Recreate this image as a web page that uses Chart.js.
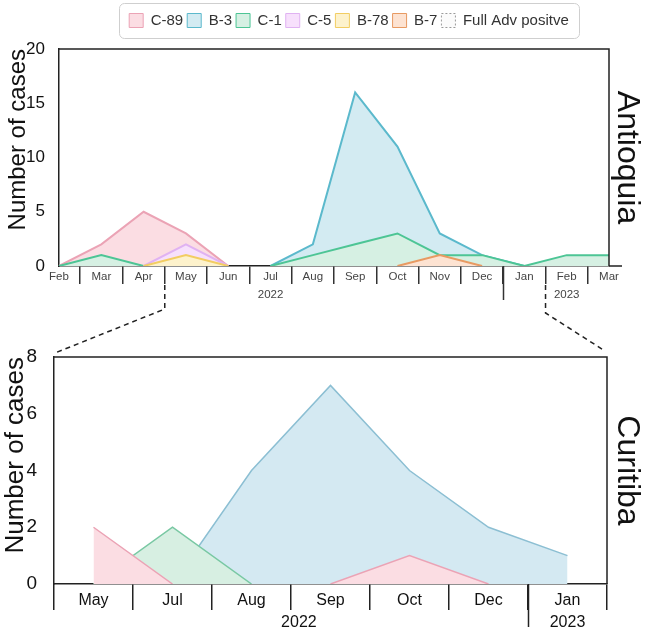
<!DOCTYPE html>
<html><head><meta charset="utf-8">
<script src="https://cdn.jsdelivr.net/npm/chart.js@4"></script>
<style>
html,body{margin:0;padding:0;background:#fff;}
#wrap{position:relative;width:650px;height:634px;overflow:hidden;}
canvas{position:absolute;left:0;}
#topc{top:0;}
#botc{top:280px;}
</style></head><body>
<div id="wrap"><canvas id="topc" width="650" height="320"></canvas><canvas id="botc" width="650" height="354"></canvas></div>
<script>
// ---------- DATA ----------
const topMonths = ['Feb','Mar','Apr','May','Jun','Jul','Aug','Sep','Oct','Nov','Dec','Jan','Feb','Mar'];
const topC89 = [0,2,5,3,0,null,null,null,null,null,null,null,null,null];
const topB3  = [null,null,null,null,null,0,2,16,11,3,1,0,null,null];
const topC1  = [0,1,0,null,null,0,1,2,3,1,1,0,1,1];
const topC5  = [null,null,0,2,0,null,null,null,null,null,null,null,null,null];
const topB78 = [null,null,0,1,0,null,null,null,null,null,null,null,null,null];
const topB7  = [null,null,null,null,null,null,null,null,0,1,0,null,null,null];
const topYTicks = [0,5,10,15,20];
const topYears = ['2022','2023'];
const topYearAt = [5,12];
const topYearBreak = 10.5;
const zoomFrom = 2.5, zoomTo = 11.5;

const botMonths = ['May','Jul','Aug','Sep','Oct','Dec','Jan'];
const botC89 = [2,0,null,0,1,0,null];
const botB3  = [null,0,4,7,4,2,1];
const botC1  = [0,2,0,null,null,null,null];
const botYTicks = [0,2,4,6,8];
const botYears = ['2022','2023'];
const botYearAt = [2.6,6];
const botYearBreak = 5.5;

const seriesNames = ['C-89','B-3','C-1','C-5','B-78','B-7','Full Adv positve'];

// ---------- STYLE ----------
const FONT = '"Liberation Sans", Arial, Helvetica, sans-serif';
Chart.defaults.font.family = FONT;
Chart.defaults.color = '#111';

const col = {
  c89:{line:'#eba3b5', fill:'#fbdde3'},
  b3:{line:'#5bb9cc', fill:'#d3ebf2'},
  b3b:{line:'#8cbfd3', fill:'#d4e9f2'},
  c1:{line:'#4dc595', fill:'#d6f0e3'},
  c1b:{line:'#79c8a3', fill:'#d7efe2'},
  c5:{line:'#e0b2f2', fill:'#f7e0fc'},
  b78:{line:'#f2cd62', fill:'#fdf2cc'},
  b7:{line:'#e89a62', fill:'#fde3d2'}
};

function ds(label, data, c, order, bw){
  return {label, data, borderColor:c.line, backgroundColor:c.fill, fill:'origin',
    borderWidth:bw, pointRadius:0, tension:0, spanGaps:false, order};
}

// ---------- PLUGINS ----------
const boxPlugin = {
  id:'plotBox',
  afterDatasetsDraw(chart, args, opts){
    const {ctx, chartArea:a} = chart;
    ctx.save();
    ctx.strokeStyle = opts.color || '#222';
    ctx.lineWidth = opts.width || 1.5;
    ctx.beginPath();
    ctx.moveTo(a.left, a.top); ctx.lineTo(a.right, a.top); ctx.lineTo(a.right, a.bottom);
    if (opts.extend) { ctx.moveTo(a.right, a.bottom); ctx.lineTo(a.right + opts.extend, a.bottom); }
    ctx.stroke();
    ctx.restore();
  }
};

const yearPlugin = {
  id:'yearGroups',
  afterDraw(chart, args, opts){
    if (!opts.labels) return;
    const {ctx, chartArea:a} = chart;
    const x = chart.scales.x;
    ctx.save();
    const bx = Math.round(x.getPixelForValue(opts.breakAt)) + 0.5;
    ctx.strokeStyle = opts.lineColor; ctx.lineWidth = opts.lineWidth;
    ctx.beginPath(); ctx.moveTo(bx, a.bottom); ctx.lineTo(bx, a.bottom + opts.breakLen); ctx.stroke();
    ctx.fillStyle = opts.color;
    ctx.font = opts.fontSize + 'px ' + FONT;
    ctx.textAlign = 'center'; ctx.textBaseline = 'middle';
    opts.labels.forEach((t,i)=>{
      ctx.fillText(t, x.getPixelForValue(opts.at[i]), a.bottom + opts.dy);
    });
    ctx.restore();
  }
};

const legendFrame = {
  id:'legendFrame',
  afterLayout(chart, args, opts){
    const lg = chart.legend;
    if (lg && opts.shift) { lg.left += opts.shift; lg.right += opts.shift; }
  },
  afterDraw(chart){
    const lg = chart.legend;
    if (!lg || !lg.legendHitBoxes || !lg.legendHitBoxes.length) return;
    const hb = lg.legendHitBoxes;
    let l = Infinity, r = -Infinity, t = Infinity, b = -Infinity;
    hb.forEach(h=>{ l=Math.min(l,h.left); r=Math.max(r,h.left+h.width); t=Math.min(t,h.top); b=Math.max(b,h.top+h.height); });
    const ctx = chart.ctx;
    ctx.save();
    ctx.strokeStyle = '#cfcfcf'; ctx.lineWidth = 1;
    ctx.beginPath();
    ctx.roundRect(Math.round(l-10)+0.5, Math.round(t-10)+0.5, Math.round(r-l+20), Math.round(b-t+20), 5);
    ctx.stroke();
    ctx.restore();
  }
};

// ---------- TOP CHART ----------
const topData = {
  labels: topMonths,
  datasets: [
    ds(seriesNames[0], topC89, col.c89, 5, 2),
    ds(seriesNames[1], topB3, col.b3, 6, 2),
    ds(seriesNames[2], topC1, col.c1, 4, 2),
    ds(seriesNames[3], topC5, col.c5, 3, 2),
    ds(seriesNames[4], topB78, col.b78, 2, 2),
    ds(seriesNames[5], topB7, col.b7, 1, 2),
    {label: seriesNames[6], data: [], borderColor:'#9a9a9a', backgroundColor:'#fbfbfb', borderDash:[2,2], borderWidth:1, pointRadius:0, order:7}
  ]
};

const topChart = new Chart(document.getElementById('topc'), {
  type:'line',
  data: topData,
  plugins:[boxPlugin, yearPlugin, legendFrame],
  options:{
    responsive:false, animation:false, devicePixelRatio:1,
    layout:{padding:{top:9, left:0, right:0, bottom:0}},
    plugins:{
      tooltip:{enabled:false},
      legend:{
        display:true, position:'top',
        labels:{
          boxWidth:14, boxHeight:14, padding:4, color:'#333',
          font:{size:15, family:FONT},
          sort:(a,b)=>a.datasetIndex-b.datasetIndex,
          generateLabels(chart){
            const items = Chart.defaults.plugins.legend.labels.generateLabels(chart);
            items.forEach(it=>{ it.lineWidth = 1; });
            return items;
          }
        }
      },
      legendFrame:{shift:24},
      plotBox:{color:'#222', width:1.5, extend:13},
      yearGroups:{labels:topYears, at:topYearAt, breakAt:topYearBreak, breakLen:34, dy:29, fontSize:11.5, color:'#444', lineColor:'#333', lineWidth:1.5}
    },
    scales:{
      xTop:{type:'category', position:'top', display:true, grid:{display:false}, border:{display:false}, ticks:{display:false}, afterFit(s){ s.height = 11; }},
      x:{
        type:'category', offset:false,
        grid:{display:true, drawOnChartArea:false, drawTicks:true, tickLength:18, offset:true, color:'#333', lineWidth:1.5},
        border:{display:true, color:'#222', width:1.5},
        ticks:{padding:-14, autoSkip:false, maxRotation:0, color:'#444', font:{size:11.5}},
        afterFit(s){ s.height = 54; }
      },
      y:{
        position:'left', min:0, max:20,
        afterBuildTicks(s){ s.ticks = topYTicks.map(v=>({value:v})); },
        grid:{display:false},
        border:{display:true, color:'#222', width:1.5},
        ticks:{padding:6, color:'#111', font:{size:17}},
        title:{display:true, text:'Number of cases', align:'end', color:'#111', font:{size:24}, padding:{top:4,bottom:0}},
        afterFit(s){ s.width = 59; }
      },
      yr:{
        position:'right', display:true, min:0, max:1,
        grid:{display:false}, border:{display:false}, ticks:{display:false},
        title:{display:true, text:'Antioquia', color:'#111', font:{size:32}, padding:{top:4,bottom:0}},
        afterFit(s){ s.width = 41; }
      }
    }
  }
});

// ---------- BOTTOM CHART ----------
const BOT_OFFSET = 280;
const connectorPlugin = {
  id:'connectors',
  afterDraw(chart){
    const ctx = chart.ctx, a = chart.chartArea;
    const tx = topChart.scales.x, ta = topChart.chartArea;
    const yStart = ta.bottom + 19 - BOT_OFFSET;
    const xl = tx.getPixelForValue(zoomFrom), xr = tx.getPixelForValue(zoomTo);
    ctx.save();
    ctx.strokeStyle = '#222'; ctx.lineWidth = 1.5; ctx.setLineDash([5,4]);
    ctx.beginPath();
    ctx.moveTo(xl, yStart); ctx.lineTo(xl, ta.bottom + 43 - BOT_OFFSET); ctx.lineTo(a.left + 1, a.top - 4);
    ctx.stroke();
    ctx.beginPath();
    ctx.moveTo(xr, yStart); ctx.lineTo(xr, ta.bottom + 47 - BOT_OFFSET); ctx.lineTo(a.right - 2, a.top - 6);
    ctx.stroke();
    ctx.restore();
  }
};

const botChart = new Chart(document.getElementById('botc'), {
  type:'line',
  data:{
    labels: botMonths,
    datasets:[
      ds(seriesNames[0], botC89, col.c89, 1, 1.5),
      ds(seriesNames[1], botB3, col.b3b, 3, 1.5),
      ds(seriesNames[2], botC1, col.c1b, 2, 1.5)
    ]
  },
  plugins:[boxPlugin, yearPlugin, connectorPlugin],
  options:{
    responsive:false, animation:false, devicePixelRatio:1,
    layout:{padding:{top:77, left:0, right:0, bottom:0}},
    plugins:{
      tooltip:{enabled:false},
      legend:{display:false},
      plotBox:{color:'#222', width:1.5},
      yearGroups:{labels:botYears, at:botYearAt, breakAt:botYearBreak, breakLen:43, dy:39, fontSize:16, color:'#111', lineColor:'#222', lineWidth:1.5}
    },
    scales:{
      x:{
        type:'category', offset:true,
        grid:{display:true, drawOnChartArea:false, drawTicks:true, tickLength:26, offset:true, color:'#222', lineWidth:1.5},
        border:{display:true, color:'#222', width:1.5},
        ticks:{padding:-19, autoSkip:false, maxRotation:0, color:'#111', font:{size:16}},
        afterFit(s){ s.height = 50; }
      },
      y:{
        position:'left', min:0, max:8,
        afterBuildTicks(s){ s.ticks = botYTicks.map(v=>({value:v})); },
        grid:{display:false},
        border:{display:true, color:'#222', width:1.5},
        ticks:{padding:9, color:'#111', font:{size:19}},
        title:{display:true, text:'Number of cases', align:'end', color:'#111', font:{size:26}, padding:{top:0,bottom:0}},
        afterFit(s){ s.width = 54; }
      },
      yr:{
        position:'right', display:true, min:0, max:1,
        grid:{display:false}, border:{display:false}, ticks:{display:false},
        title:{display:true, text:'Curitiba', color:'#111', font:{size:32}, padding:{top:4,bottom:0}},
        afterFit(s){ s.width = 43; }
      }
    }
  }
});
</script>
</body></html>
